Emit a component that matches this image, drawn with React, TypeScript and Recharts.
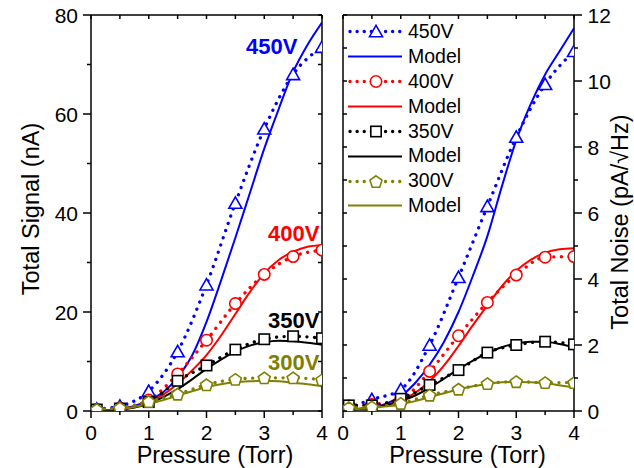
import React from 'react';
import { LineChart, Line, XAxis, YAxis, Legend, ReferenceDot } from 'recharts';

const FONT = '"Liberation Sans", Arial, Helvetica, sans-serif';

// measured points
const pressure = [0.1, 0.5, 1, 1.5, 2, 2.5, 3, 3.5, 4];
const signal450 = [0.4, 1.0, 4.0, 12.0, 25.5, 42.0, 57.0, 68.0, 73.5];
const signal400 = [0.3, 0.6, 2.2, 7.5, 14.3, 21.7, 27.6, 31.2, 32.5];
const signal350 = [0.3, 0.5, 1.8, 6.1, 9.2, 12.4, 14.5, 15.1, 14.7];
const signal300 = [0.3, 0.6, 1.9, 3.4, 5.3, 6.4, 6.7, 6.7, 6.3];
const noise450 = [0.1, 0.35, 0.65, 2.0, 4.05, 6.2, 8.3, 9.9, 10.9];
const noise400 = [0.15, 0.2, 0.35, 1.2, 2.28, 3.29, 4.12, 4.66, 4.68];
const noise350 = [0.17, 0.17, 0.37, 0.79, 1.24, 1.77, 2.0, 2.1, 2.02];
const noise300 = [0.1, 0.12, 0.23, 0.48, 0.66, 0.83, 0.89, 0.86, 0.86];

// model curves
const modelPressure = [0, 0.25, 0.5, 0.75, 1, 1.25, 1.5, 1.75, 2, 2.25, 2.5, 2.75, 3, 3.25, 3.5, 3.75, 4];
const modelSignal450 = [0, 0.1, 0.4, 1.0, 2.2, 3.8, 6.8, 11.2, 18, 26.3, 35, 44, 53, 61, 68.5, 74, 78.5];
const modelSignal400 = [0, 0.1, 0.3, 0.8, 1.8, 3.3, 5.5, 8.2, 11.3, 15.2, 19.6, 24, 27.8, 30.5, 32.2, 33.2, 33.5];
const modelSignal350 = [0, 0.1, 0.3, 0.7, 1.5, 2.8, 4.4, 6.4, 8.5, 10.4, 12, 13.2, 13.9, 14.2, 14.1, 13.8, 13.4];
const modelSignal300 = [0, 0.1, 0.3, 0.8, 1.4, 2.2, 3.1, 4.0, 4.8, 5.4, 5.8, 6.0, 6.1, 6.0, 5.7, 5.4, 5.0];
const modelNoise450 = [0.05, 0.06, 0.1, 0.22, 0.45, 0.85, 1.4, 2.1, 3.0, 4.1, 5.3, 6.8, 8.2, 9.3, 10.2, 10.9, 11.6];
const modelNoise400 = [0.05, 0.06, 0.1, 0.18, 0.32, 0.55, 0.9, 1.38, 1.97, 2.6, 3.2, 3.78, 4.25, 4.58, 4.8, 4.9, 4.93];
const modelNoise350 = [0.05, 0.06, 0.1, 0.18, 0.3, 0.47, 0.7, 0.98, 1.27, 1.53, 1.75, 1.93, 2.05, 2.1, 2.1, 2.03, 1.93];
const modelNoise300 = [0.05, 0.06, 0.09, 0.14, 0.2, 0.3, 0.42, 0.54, 0.65, 0.75, 0.82, 0.87, 0.88, 0.87, 0.84, 0.78, 0.71];

// ticks
const pressureMajorTicks = [0, 1, 2, 3, 4];
const pressureMinorTicks = [0.5, 1.5, 2.5, 3.5];
const signalMajorTicks = [0, 20, 40, 60, 80];
const signalMinorTicks = [10, 30, 50, 70];
const noiseMajorTicks = [0, 2, 4, 6, 8, 10, 12];
const noiseMinorTicks = [1, 3, 5, 7, 9, 11];

const voltages = ['450V', '400V', '350V', '300V'];
const colors = ['#0000ff', '#ff0000', '#000000', '#808000'];
const shapes = ['triangle', 'circle', 'square', 'pentagon'];

const sortNum = (a: number[]) => [...a].sort((m, n) => m - n);
const pressureTicks = sortNum([...pressureMajorTicks, ...pressureMinorTicks]);
const signalTicks = sortNum([...signalMajorTicks, ...signalMinorTicks]);
const noiseTicks = sortNum([...noiseMajorTicks, ...noiseMinorTicks]);

const toRows = (xs: number[], ys: number[]) => xs.map((p, i) => ({ p, v: ys[i] }));
const signalData = [signal450, signal400, signal350, signal300].map((ys) => toRows(pressure, ys));
const noiseData = [noise450, noise400, noise350, noise300].map((ys) => toRows(pressure, ys));
const signalModel = [modelSignal450, modelSignal400, modelSignal350, modelSignal300].map((ys) => toRows(modelPressure, ys));
const noiseModel = [modelNoise450, modelNoise400, modelNoise350, modelNoise300].map((ys) => toRows(modelPressure, ys));

const W = 634;
const H = 468;
const axisLine = { stroke: '#000', strokeWidth: 1.5 };
const DOTS = '0.1 7.5';

const MarkerShape = ({ cx, cy, shape, color }: { cx: number; cy: number; shape: string; color: string }) => {
  if (cx == null || cy == null || isNaN(cx) || isNaN(cy)) return null;
  const common = { fill: '#fff', stroke: color, strokeWidth: 1.6 };
  if (shape === 'triangle') {
    return <polygon points={`${cx},${cy - 6.2} ${cx - 6.5},${cy + 5.2} ${cx + 6.5},${cy + 5.2}`} {...common} />;
  }
  if (shape === 'circle') return <circle cx={cx} cy={cy} r={5.7} {...common} />;
  if (shape === 'square') return <rect x={cx - 5.2} y={cy - 5.2} width={10.4} height={10.4} {...common} />;
  const pts = [0, 1, 2, 3, 4]
    .map((k) => {
      const a = ((-90 + k * 72) * Math.PI) / 180;
      return `${cx + 6.3 * Math.cos(a)},${cy + 0.6 + 6.3 * Math.sin(a)}`;
    })
    .join(' ');
  return <polygon points={pts} {...common} />;
};

const tickText = { fontSize: 21, fontFamily: FONT, fill: '#000' };

const BottomTick = (props: any) => {
  const { x, y, payload } = props;
  const major = pressureMajorTicks.includes(payload.value);
  return (
    <g>
      <line x1={x} x2={x} y1={y} y2={y + (major ? 7 : 4)} stroke="#000" strokeWidth={1.5} />
      {major && (
        <text x={x} y={y + 29} textAnchor="middle" {...tickText}>
          {payload.value}
        </text>
      )}
    </g>
  );
};

const TopTick = (props: any) => {
  const { x, y } = props;
  return <line x1={x} x2={x} y1={y} y2={y + 4} stroke="#000" strokeWidth={1.5} />;
};

const SignalTick = (props: any) => {
  const { x, y, payload } = props;
  const major = signalMajorTicks.includes(payload.value);
  return (
    <g>
      <line x1={x - (major ? 8 : 4)} x2={x} y1={y} y2={y} stroke="#000" strokeWidth={1.5} />
      {major && (
        <text x={x - 13} y={y + 7.5} textAnchor="end" {...tickText}>
          {payload.value}
        </text>
      )}
    </g>
  );
};

const NoiseTick = (props: any) => {
  const { x, y, payload } = props;
  const major = noiseMajorTicks.includes(payload.value);
  return (
    <g>
      <line x1={x} x2={x + (major ? 8 : 4)} y1={y} y2={y} stroke="#000" strokeWidth={1.5} />
      {major && (
        <text x={x + 13.5} y={y + 7.5} textAnchor="start" {...tickText}>
          {payload.value}
        </text>
      )}
    </g>
  );
};

const InnerRightTick = (props: any) => {
  const { x, y } = props;
  return <line x1={x - 4} x2={x} y1={y} y2={y} stroke="#000" strokeWidth={1.5} />;
};

const InnerLeftTick = (props: any) => {
  const { x, y } = props;
  return <line x1={x} x2={x + 4} y1={y} y2={y} stroke="#000" strokeWidth={1.5} />;
};

const titleStyle = { fontSize: 23.5, fontFamily: FONT, fill: '#000' };

const PressureTitle = (cx: number) => () => (
  <text x={cx} y={463} textAnchor="middle" {...titleStyle}>
    Pressure (Torr)
  </text>
);

const SignalTitle = () => (
  <text transform="rotate(-90 38.5 209)" x={38.5} y={209} textAnchor="middle" {...titleStyle}>
    Total Signal (nA)
  </text>
);

const NoiseTitle = () => (
  <text transform="rotate(-90 628 222)" x={628} y={222} textAnchor="middle" {...titleStyle}>
    Total Noise (pA/√Hz)
  </text>
);

// measured series sit on the main axes, model curves on the mirrored (frame) axes,
// which share the same fixed domains
const seriesLines = (data: any[][], model: any[][], frameY: string) =>
  voltages.flatMap((v, i) => [
    <Line
      key={`d${i}`}
      xAxisId="x"
      yAxisId="y"
      data={data[i]}
      dataKey="v"
      type="monotone"
      stroke={colors[i]}
      strokeWidth={3.3}
      strokeDasharray={DOTS}
      strokeLinecap="round"
      isAnimationActive={false}
      activeDot={false}
      dot={(p: any) => <MarkerShape key={`m${i}-${p.index}`} cx={p.cx} cy={p.cy} shape={shapes[i]} color={colors[i]} />}
    />,
    <Line
      key={`m${i}`}
      xAxisId="xt"
      yAxisId={frameY}
      data={model[i]}
      dataKey="v"
      type="monotone"
      stroke={colors[i]}
      strokeWidth={2}
      dot={false}
      activeDot={false}
      isAnimationActive={false}
    />,
  ]);

const legendRows = voltages.flatMap((v, i) => [
  { label: v, color: colors[i], shape: shapes[i], dotted: true },
  { label: 'Model', color: colors[i], shape: '', dotted: false },
]);

const LegendBox = () => (
  <div style={{ fontFamily: FONT }}>
    {legendRows.map((r, i) => (
      <div key={i} style={{ display: 'flex', alignItems: 'center', height: 24.9 }}>
        <svg width={58} height={25} style={{ display: 'block' }}>
          <line
            x1={r.dotted ? 3 : 1}
            x2={55}
            y1={12.5}
            y2={12.5}
            stroke={r.color}
            strokeWidth={r.dotted ? 3.3 : 2}
            strokeDasharray={r.dotted ? '0.1 7' : undefined}
            strokeLinecap={r.dotted ? 'round' : 'butt'}
          />
          {r.dotted && <MarkerShape cx={29} cy={12.5} shape={r.shape} color={r.color} />}
        </svg>
        <span style={{ marginLeft: 3, fontSize: 19.5, color: '#000', lineHeight: 1 }}>{r.label}</span>
      </div>
    ))}
  </div>
);

const seriesLabel = (text: string, color: string) => ({
  value: text,
  position: 'center' as const,
  fill: color,
  fontSize: 22,
  fontWeight: 'bold',
  fontFamily: FONT,
});

const xAxes = (titleX: number) => [
  <XAxis
    key="x"
    xAxisId="x"
    type="number"
    dataKey="p"
    domain={[0, 4]}
    ticks={pressureTicks}
    interval={0}
    allowDataOverflow
    height={57}
    tickSize={0}
    tickMargin={0}
    tickLine={false}
    tick={BottomTick}
    axisLine={axisLine}
    label={PressureTitle(titleX)}
  />,
  <XAxis
    key="xt"
    xAxisId="xt"
    orientation="top"
    type="number"
    dataKey="p"
    domain={[0, 4]}
    ticks={pressureTicks}
    interval={0}
    allowDataOverflow
    height={1}
    tickSize={0}
    tickMargin={0}
    tickLine={false}
    tick={TopTick}
    axisLine={axisLine}
  />,
];

export default function App() {
  return (
    <div style={{ position: 'absolute', left: 0, top: 0, width: W, height: H, background: '#fff' }}>
      <div style={{ position: 'absolute', left: 0, top: 0 }}>
        <LineChart width={W} height={H} margin={{ top: 14, right: 311, bottom: 0, left: 0 }}>
          {xAxes(215)}
          <YAxis
            yAxisId="y"
            type="number"
            domain={[0, 80]}
            ticks={signalTicks}
            interval={0}
            allowDataOverflow
            width={91}
            tickSize={0}
            tickMargin={0}
            tickLine={false}
            tick={SignalTick}
            axisLine={axisLine}
            label={SignalTitle}
          />
          <YAxis
            yAxisId="yr"
            orientation="right"
            type="number"
            domain={[0, 80]}
            ticks={signalTicks}
            interval={0}
            allowDataOverflow
            width={1}
            tickSize={0}
            tickMargin={0}
            tickLine={false}
            tick={InnerRightTick}
            axisLine={axisLine}
          />
          {seriesLines(signalData, signalModel, 'yr')}
          <ReferenceDot xAxisId="x" yAxisId="y" x={3.13} y={73.7} r={0} fill="none" stroke="none" label={seriesLabel('450V', colors[0])} />
          <ReferenceDot xAxisId="x" yAxisId="y" x={3.51} y={36.0} r={0} fill="none" stroke="none" label={seriesLabel('400V', colors[1])} />
          <ReferenceDot xAxisId="x" yAxisId="y" x={3.51} y={18.4} r={0} fill="none" stroke="none" label={seriesLabel('350V', colors[2])} />
          <ReferenceDot xAxisId="x" yAxisId="y" x={3.51} y={9.86} r={0} fill="none" stroke="none" label={seriesLabel('300V', colors[3])} />
        </LineChart>
      </div>
      <div style={{ position: 'absolute', left: 0, top: 0 }}>
        <LineChart width={W} height={H} margin={{ top: 14, right: 0, bottom: 0, left: 342 }}>
          {xAxes(467.5)}
          <YAxis
            yAxisId="y"
            orientation="right"
            type="number"
            domain={[0, 12]}
            ticks={noiseTicks}
            interval={0}
            allowDataOverflow
            width={60}
            tickSize={0}
            tickMargin={0}
            tickLine={false}
            tick={NoiseTick}
            axisLine={axisLine}
            label={NoiseTitle}
          />
          <YAxis
            yAxisId="yl"
            orientation="left"
            type="number"
            domain={[0, 12]}
            ticks={noiseTicks}
            interval={0}
            allowDataOverflow
            width={1}
            tickSize={0}
            tickMargin={0}
            tickLine={false}
            tick={InnerLeftTick}
            axisLine={axisLine}
          />
          {seriesLines(noiseData, noiseModel, 'yl')}
          <Legend
            layout="vertical"
            align="center"
            verticalAlign="middle"
            wrapperStyle={{ left: 347, top: 19.25, width: 130 }}
            content={() => <LegendBox />}
          />
        </LineChart>
      </div>
    </div>
  );
}
